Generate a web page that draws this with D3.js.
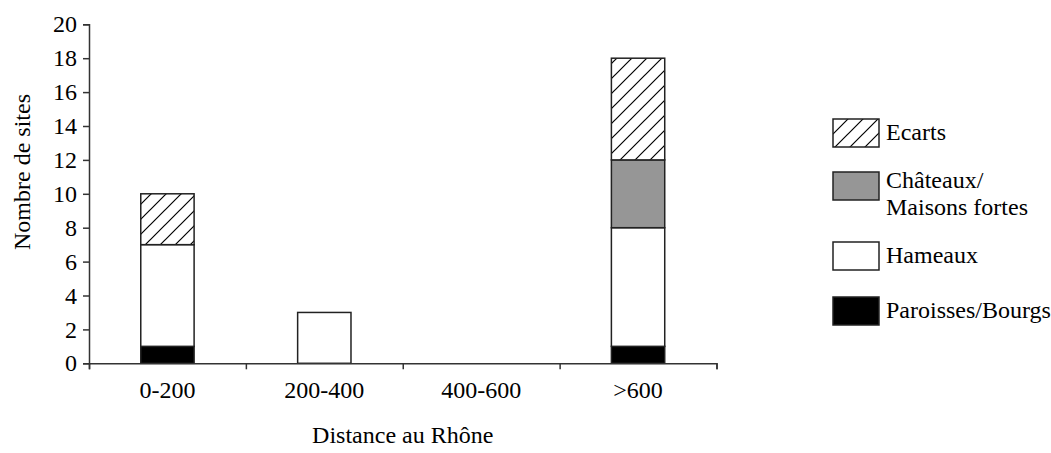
<!DOCTYPE html>
<html>
<head>
<meta charset="utf-8">
<script src="https://cdn.jsdelivr.net/npm/d3@7"></script>
<style>
  body { margin: 0; background: #fff; }
  svg text { font-family: "Liberation Serif", "DejaVu Serif", serif; fill: #000; }
</style>
</head>
<body>
<div id="chart"></div>
<script>
// categories and series (number of sites)
var categories = ["0-200", "200-400", "400-600", ">600"];
var paroisses = [1, 0, 0, 1];
var hameaux   = [6, 3, 0, 7];
var chateaux  = [0, 0, 0, 4];
var ecarts    = [3, 0, 0, 6];
var yTicks = [0, 2, 4, 6, 8, 10, 12, 14, 16, 18, 20];

var seriesKeys = ["paroisses", "hameaux", "chateaux", "ecarts"];
var legendLabels = {
    ecarts: ["Ecarts"],
    chateaux: ["Châteaux/", "Maisons fortes"],
    hameaux: ["Hameaux"],
    paroisses: ["Paroisses/Bourgs"]
};

var FONT = "'Liberation Serif', 'DejaVu Serif', serif";
var FS = "24px";

function init() {
    var w = 1051, h = 453;
    var left = 89, right = 716.5, top = 24.3, bottom = 363.3;

    var rows = categories.map(function(c, i) {
        return { cat: c, paroisses: paroisses[i], hameaux: hameaux[i], chateaux: chateaux[i], ecarts: ecarts[i] };
    });
    var stacked = d3.stack().keys(seriesKeys)(rows);

    var xBand = d3.scaleBand().domain(categories).range([left, right]).padding(0);
    var xEdge = d3.scaleLinear().domain([0, categories.length]).range([left, right]);
    var yScale = d3.scaleLinear().domain([0, 20]).range([bottom, top]);
    var barW = xBand.bandwidth() * 0.34;

    var svg = d3.select("#chart").append("svg")
        .attr("width", w).attr("height", h);

    // hatch pattern for "Ecarts"
    var pat = svg.append("defs").append("pattern")
        .attr("id", "hatch")
        .attr("patternUnits", "userSpaceOnUse")
        .attr("width", 15).attr("height", 15);
    pat.append("rect").attr("width", 15).attr("height", 15).attr("fill", "#fff");
    pat.append("path")
        .attr("d", "M0,15 L15,0 M-4,4 L4,-4 M11,19 L19,11")
        .attr("stroke", "#000").attr("stroke-width", 1.2);

    var fills = { paroisses: "#000", hameaux: "#fff", chateaux: "#969696", ecarts: "url(#hatch)" };

    // bars
    svg.selectAll("g.series")
        .data(stacked)
        .enter().append("g")
        .attr("class", "series")
        .attr("fill", function(d) { return fills[d.key]; })
        .selectAll("rect")
        .data(function(d) { return d.filter(function(s) { return s[1] - s[0] > 0; }); })
        .enter().append("rect")
        .attr("x", function(d) { return xBand(d.data.cat) + (xBand.bandwidth() - barW) / 2; })
        .attr("y", function(d) { return yScale(d[1]); })
        .attr("width", barW)
        .attr("height", function(d) { return yScale(d[0]) - yScale(d[1]); })
        .attr("stroke", "#222")
        .attr("stroke-width", 1.5);

    // y axis
    var yAxis = svg.append("g")
        .attr("transform", "translate(" + left + ",0)")
        .call(d3.axisLeft(yScale).tickValues(yTicks).tickSize(6).tickPadding(6));
    // x axis (ticks at category boundaries)
    var xAxis = svg.append("g")
        .attr("transform", "translate(0," + bottom + ")")
        .call(d3.axisBottom(xEdge).tickValues(d3.range(categories.length + 1)).tickFormat("").tickSize(6));

    [yAxis, xAxis].forEach(function(a) {
        a.attr("font-family", null);
        a.select(".domain").attr("stroke", "#333").attr("stroke-width", 1.5);
        a.selectAll(".tick line").attr("stroke", "#333").attr("stroke-width", 1.5);
    });
    yAxis.selectAll("text")
        .style("font-family", FONT).style("font-size", FS).attr("fill", "#000");

    // category labels
    svg.selectAll("text.cat")
        .data(categories)
        .enter().append("text")
        .attr("class", "cat")
        .attr("x", function(d) { return xBand(d) + xBand.bandwidth() / 2; })
        .attr("y", 398)
        .attr("text-anchor", "middle")
        .style("font-family", FONT).style("font-size", FS)
        .text(function(d) { return d; });

    // axis titles
    svg.append("text")
        .attr("x", (left + right) / 2).attr("y", 443)
        .attr("text-anchor", "middle")
        .style("font-family", FONT).style("font-size", FS)
        .text("Distance au Rhône");
    svg.append("text")
        .attr("transform", "translate(30,172) rotate(-90)")
        .attr("text-anchor", "middle")
        .style("font-family", FONT).style("font-size", FS)
        .text("Nombre de sites");

    // legend
    var legendY = { ecarts: 119, chateaux: 172, hameaux: 242, paroisses: 297 };
    var legendKeys = seriesKeys.slice().reverse();
    var lg = svg.selectAll("g.legend")
        .data(legendKeys)
        .enter().append("g")
        .attr("class", "legend")
        .attr("transform", function(d) { return "translate(833," + legendY[d] + ")"; });
    lg.append("rect")
        .attr("width", 46).attr("height", 28)
        .attr("fill", function(d) { return fills[d]; })
        .attr("stroke", "#222").attr("stroke-width", 1.5);
    lg.each(function(d) {
        var lines = legendLabels[d];
        var t = d3.select(this).append("text")
            .attr("x", 53)
            .style("font-family", FONT).style("font-size", FS);
        t.selectAll("tspan")
            .data(lines)
            .enter().append("tspan")
            .attr("x", 53)
            .attr("y", function(l, i) { return lines.length > 1 ? 16 + i * 27 : 21; })
            .text(function(l) { return l; });
    });
}

window.onload = init;
</script>
</body>
</html>
